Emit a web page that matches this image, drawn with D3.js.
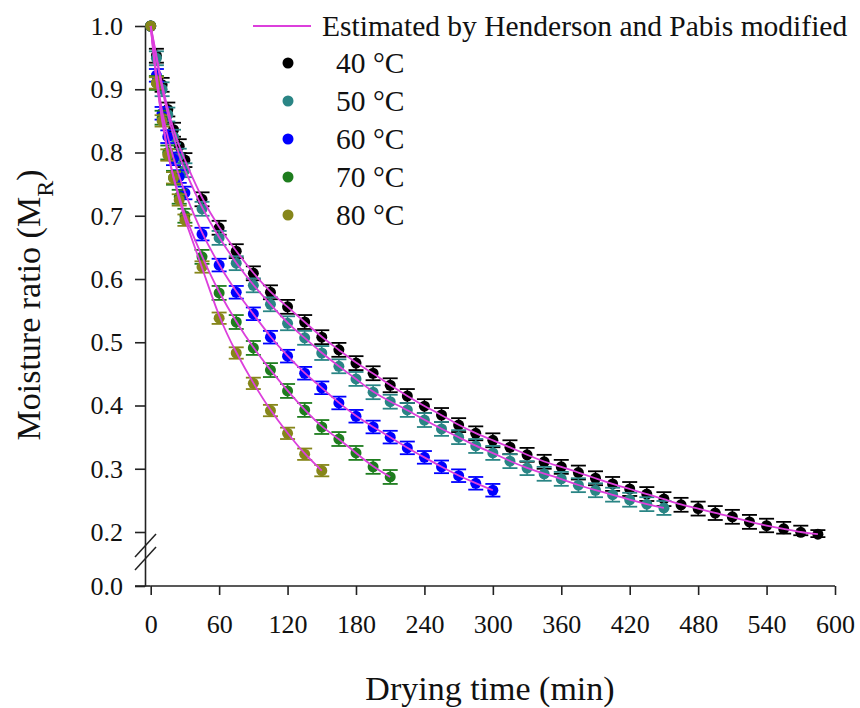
<!DOCTYPE html>
<html lang="en">
<head>
<meta charset="UTF-8">
<title>Moisture ratio</title>
<script src="https://cdn.jsdelivr.net/npm/d3@7/dist/d3.min.js"></script>
<style>
    * { margin: 0; padding: 0; }
    body { background: #fff; }
    text { font-family: "Liberation Serif", "Times New Roman", serif; fill: #111; }
</style>
</head>
<body>
<svg></svg>
<script>
    // drying times (min), shared by all series
    const times = [0, 5, 10, 15, 20, 25, 30, 45, 60, 75, 90, 105, 120, 135, 150, 165, 180, 195, 210,
        225, 240, 255, 270, 285, 300, 315, 330, 345, 360, 375, 390, 405, 420, 435, 450, 465, 480,
        495, 510, 525, 540, 555, 570, 585];

    const mr40 = [1.0, 0.953, 0.907, 0.868, 0.836, 0.81, 0.788, 0.726, 0.681, 0.644, 0.609, 0.579,
        0.556, 0.532, 0.508, 0.488, 0.467, 0.451, 0.432, 0.415, 0.399, 0.385, 0.369, 0.356, 0.345,
        0.334, 0.322, 0.311, 0.303, 0.294, 0.285, 0.276, 0.268, 0.260, 0.252, 0.243, 0.237, 0.230,
        0.224, 0.216, 0.210, 0.205, 0.199, 0.192];
    const mr50 = [1.0, 0.949, 0.90, 0.86, 0.825, 0.795, 0.772, 0.711, 0.665, 0.625, 0.590, 0.560,
        0.530, 0.507, 0.483, 0.462, 0.442, 0.421, 0.406, 0.393, 0.377, 0.363, 0.350, 0.336, 0.325,
        0.312, 0.301, 0.292, 0.284, 0.274, 0.266, 0.259, 0.251, 0.244, 0.238];
    const mr60 = [1.0, 0.922, 0.862, 0.825, 0.79, 0.762, 0.736, 0.671, 0.622, 0.579, 0.545, 0.508,
        0.478, 0.451, 0.428, 0.404, 0.383, 0.366, 0.350, 0.333, 0.318, 0.303, 0.289, 0.277, 0.266];
    const mr70 = [1.0, 0.91, 0.855, 0.80, 0.76, 0.73, 0.70, 0.635, 0.578, 0.532, 0.491, 0.456,
        0.423, 0.393, 0.366, 0.347, 0.325, 0.303, 0.287];
    const mr80 = [1.0, 0.91, 0.85, 0.796, 0.76, 0.725, 0.693, 0.619, 0.538, 0.483, 0.435, 0.392,
        0.356, 0.323, 0.297];

    const labels = ['40 °C', '50 °C', '60 °C', '70 °C', '80 °C'];
    const colors = ['#000000', '#2a8585', '#0000ff', '#1e7d1e', '#86861a'];
    const errors = [0.011, 0.011, 0.010, 0.011, 0.009]; // half-height of error bars
    const xTicks = [0, 60, 120, 180, 240, 300, 360, 420, 480, 540, 600];
    const yTicks = [0, 0.2, 0.3, 0.4, 0.5, 0.6, 0.7, 0.8, 0.9, 1.0];

    const fitColor = '#dc3fdc';
    const width = 860, height = 708;
    const svg = d3.select('svg').attr('width', width).attr('height', height);

    const axisX = 145, axisY = 586;
    const x = d3.scaleLinear().domain([0, 600]).range([150.7, 835]);
    // broken axis: 0 .. 0.2 squeezed below the break
    const y = d3.scaleLinear().domain([0, 0.2, 1.0]).range([586, 532, 26]);

    const series = [mr40, mr50, mr60, mr70, mr80].map((vals, i) => ({
        name: labels[i],
        color: colors[i],
        err: errors[i],
        pts: vals.map((v, j) => ({ t: times[j], v: v }))
    }));

    // axes
    const yAxis = svg.append('g')
        .attr('transform', `translate(${axisX},0)`)
        .call(d3.axisLeft(y).tickValues(yTicks).tickSize(10).tickSizeOuter(0).tickPadding(12)
            .tickFormat(d3.format('.1f')));
    const xAxis = svg.append('g')
        .attr('transform', `translate(0,${axisY})`)
        .call(d3.axisBottom(x).tickValues(xTicks).tickSize(9).tickSizeOuter(0).tickPadding(20));
    svg.append('line')
        .attr('x1', axisX - 10).attr('x2', x(0)).attr('y1', axisY).attr('y2', axisY)
        .attr('stroke', '#222').attr('stroke-width', 1.6);

    [yAxis, xAxis].forEach(a => {
        a.selectAll('path, line').attr('stroke', '#222').attr('stroke-width', 1.6);
        a.selectAll('text').style('font-size', '26px').attr('fill', '#111');
    });
    xAxis.select('.domain').attr('d', `M${x(0)},0H${x(600)}`);

    // break marks
    [[557, 534], [570, 547]].forEach(([ya, yb]) => {
        svg.append('line')
            .attr('x1', axisX - 10).attr('y1', ya).attr('x2', axisX + 11).attr('y2', yb)
            .attr('stroke', '#222').attr('stroke-width', 1.5);
    });

    // points + error bars (no bar at t = 0, where every run starts at 1.0)
    series.forEach(s => {
        const g = svg.append('g');
        const cap = 7.5;
        s.pts.filter(p => p.t > 0).forEach(p => {
            const cx = x(p.t);
            const y1 = y(p.v + s.err), y2 = y(p.v - s.err);
            g.append('line').attr('x1', cx).attr('x2', cx).attr('y1', y1).attr('y2', y2)
                .attr('stroke', s.color).attr('stroke-width', 1.5);
            [y1, y2].forEach(yy => g.append('line')
                .attr('x1', cx - cap).attr('x2', cx + cap).attr('y1', yy).attr('y2', yy)
                .attr('stroke', s.color).attr('stroke-width', 1.8));
        });
        g.selectAll('circle').data(s.pts).enter().append('circle')
            .attr('cx', d => x(d.t)).attr('cy', d => y(d.v)).attr('r', 5.5)
            .attr('fill', s.color);
    });

    // fitted curves (smoothed through the measured points)
    const line = d3.line().x(d => x(d.t)).y(d => y(d.v)).curve(d3.curveBasis);
    series.forEach(s => {
        svg.append('path').attr('d', line(s.pts))
            .attr('fill', 'none').attr('stroke', fitColor).attr('stroke-width', 1.8);
    });

    // legend
    const lg = svg.append('g');
    lg.append('line').attr('x1', 253).attr('x2', 311).attr('y1', 26).attr('y2', 26)
        .attr('stroke', fitColor).attr('stroke-width', 2);
    lg.append('text').attr('x', 322).attr('y', 36).style('font-size', '29.5px')
        .text('Estimated by Henderson and Pabis modified');
    series.forEach((s, i) => {
        const yy = 63 + i * 38;
        lg.append('circle').attr('cx', 288).attr('cy', yy).attr('r', 5.5).attr('fill', s.color);
        lg.append('text').attr('x', 336).attr('y', yy + 10).style('font-size', '29.5px').text(s.name);
    });

    // axis titles
    svg.append('text')
        .attr('transform', `translate(40,305) rotate(-90)`)
        .attr('text-anchor', 'middle').style('font-size', '34px')
        .html('Moisture ratio (M<tspan baseline-shift="sub" font-size="24px">R</tspan>)');
    svg.append('text')
        .attr('x', 490).attr('y', 700).attr('text-anchor', 'middle').style('font-size', '34px')
        .text('Drying time (min)');
</script>
</body>
</html>
